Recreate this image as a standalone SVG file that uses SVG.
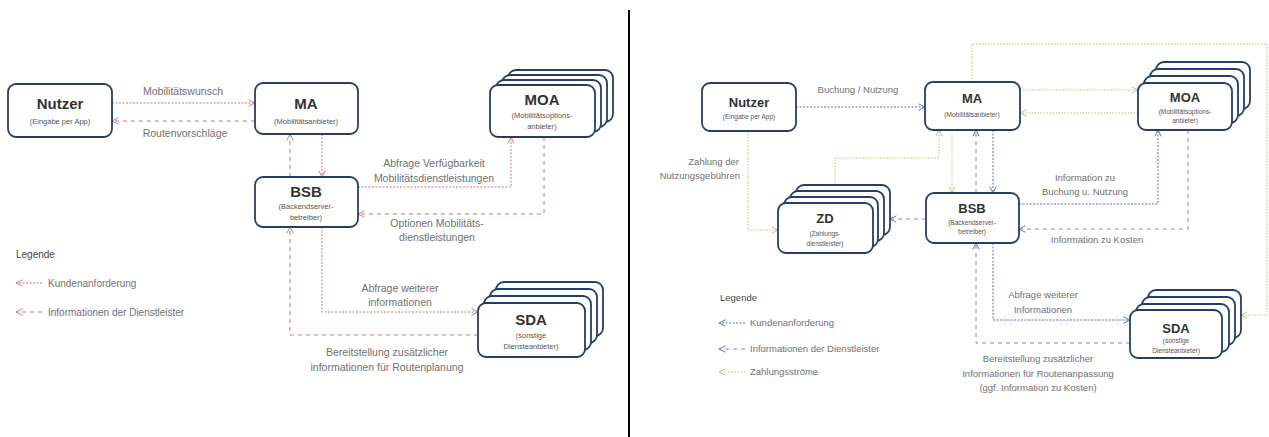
<svg xmlns="http://www.w3.org/2000/svg" width="1269" height="437" viewBox="0 0 1269 437">
<defs>
<style>
.box{fill:#fff;stroke:#243f66;stroke-width:1.8}
.t1{font-family:"Liberation Sans",Arial,sans-serif;font-weight:bold;fill:#333;text-anchor:middle}
.sub{font-family:"Liberation Sans",Arial,sans-serif;fill:#555;text-anchor:middle}
.lbl{font-family:"Liberation Sans",Arial,sans-serif;fill:#707070;font-size:10.5px;text-anchor:middle}
.lblr{font-family:"Liberation Sans",Arial,sans-serif;fill:#707070;font-size:9.5px;text-anchor:middle}
.leg{font-family:"Liberation Sans",Arial,sans-serif;fill:#707070;font-size:10px}
.c{fill:none;stroke-width:1}
.redK{stroke:#cc7676;stroke-dasharray:2 1.5}
.redI{stroke:#cc7676;stroke-dasharray:4 4}
.bluK{stroke:#5a74a2;stroke-dasharray:2 1.5}
.bluI{stroke:#7a8fb4;stroke-dasharray:4 4}
.grn{stroke:#b0c878;stroke-dasharray:1.5 1.5}
</style>
<marker id="ar" viewBox="0 0 10 10" refX="9" refY="5" markerWidth="8" markerHeight="8" markerUnits="userSpaceOnUse" orient="auto"><path d="M1,1 L9,5 L1,9" fill="none" stroke="#cc7676" stroke-width="1.2"/></marker>
<marker id="ab" viewBox="0 0 10 10" refX="9" refY="5" markerWidth="8" markerHeight="8" markerUnits="userSpaceOnUse" orient="auto"><path d="M1,1 L9,5 L1,9" fill="none" stroke="#5a74a2" stroke-width="1.2"/></marker>
<marker id="ag" viewBox="0 0 10 10" refX="9" refY="5" markerWidth="8" markerHeight="8" markerUnits="userSpaceOnUse" orient="auto"><path d="M1,1 L9,5 L1,9" fill="none" stroke="#b0c878" stroke-width="1.2"/></marker>
</defs>
<rect width="1269" height="437" fill="#fff"/>
<line x1="629" y1="10" x2="629" y2="437" stroke="#000" stroke-width="2"/>

<!-- LEFT connectors -->
<g id="connectors-left">
<line class="c redK" x1="112" y1="103" x2="255" y2="103" marker-end="url(#ar)"/>
<line class="c redI" x1="255" y1="121" x2="112" y2="121" marker-end="url(#ar)"/>
<line class="c redI" x1="290" y1="177" x2="290" y2="134" marker-end="url(#ar)"/>
<line class="c redK" x1="322" y1="134" x2="322" y2="177" marker-end="url(#ar)"/>
<polyline class="c redK" points="358,187 511,187 511,137" marker-end="url(#ar)"/>
<polyline class="c redI" points="544,137 544,214 358,214" marker-end="url(#ar)"/>
<polyline class="c redK" points="322,227 322,312 478,312" marker-end="url(#ar)"/>
<polyline class="c redI" points="478,335 290,335 290,227" marker-end="url(#ar)"/>
<line class="c redK" x1="42" y1="283" x2="16" y2="283" marker-end="url(#ar)"/>
<line class="c redI" x1="42" y1="312" x2="16" y2="312" marker-end="url(#ar)"/>
</g>
<g id="labels-left">
<text class="lbl" x="183" y="95">Mobilitätswunsch</text>
<text class="lbl" x="185" y="137">Routenvorschläge</text>
<text class="lbl" x="434" y="167">Abfrage Verfügbarkeit</text>
<text class="lbl" x="434" y="182">Mobilitätsdienstleistungen</text>
<text class="lbl" x="437" y="227">Optionen Mobilitäts-</text>
<text class="lbl" x="437" y="241">dienstleistungen</text>
<text class="lbl" x="400" y="292">Abfrage weiterer</text>
<text class="lbl" x="400" y="306">informationen</text>
<text class="lbl" x="387" y="356">Bereitstellung zusätzlicher</text>
<text class="lbl" x="387" y="371">informationen für Routenplanung</text>
<text class="leg" x="16" y="258" style="fill:#444">Legende</text>
<text class="leg" x="48" y="287">Kundenanforderung</text>
<text class="leg" x="48" y="316">Informationen der Dienstleister</text>
</g>

<!-- LEFT nodes -->
<g id="L-Nutzer">
<rect class="box" x="8" y="84" width="104" height="53" rx="8"/>
<text class="t1" x="60" y="109" font-size="15">Nutzer</text>
<text class="sub" x="60" y="124" font-size="7.5">(Eingabe per App)</text>
</g>
<g id="L-MA">
<rect class="box" x="255" y="83" width="103" height="51" rx="8"/>
<text class="t1" x="306" y="109" font-size="15">MA</text>
<text class="sub" x="306" y="124" font-size="7.5">(Mobilitätsanbieter)</text>
</g>
<g id="L-BSB">
<rect class="box" x="255" y="177" width="103" height="50" rx="8"/>
<text class="t1" x="306" y="197" font-size="15">BSB</text>
<text class="sub" x="306" y="209" font-size="7.5">(Backendserver-</text>
<text class="sub" x="306" y="220" font-size="7.5">betreiber)</text>
</g>
<g id="L-MOA">
<rect class="box" x="508" y="70" width="105" height="52" rx="8"/>
<rect class="box" x="502" y="75" width="105" height="52" rx="8"/>
<rect class="box" x="496" y="80" width="105" height="52" rx="8"/>
<rect class="box" x="490" y="85" width="105" height="52" rx="8"/>
<text class="t1" x="542" y="105" font-size="15">MOA</text>
<text class="sub" x="542" y="118" font-size="7.5">(Mobilitätsoptions-</text>
<text class="sub" x="542" y="129" font-size="7.5">anbieter)</text>
</g>
<g id="L-SDA">
<rect class="box" x="496" y="282" width="107" height="54" rx="8"/>
<rect class="box" x="490" y="289" width="107" height="54" rx="8"/>
<rect class="box" x="484" y="296" width="107" height="54" rx="8"/>
<rect class="box" x="478" y="303" width="107" height="54" rx="8"/>
<text class="t1" x="531" y="325" font-size="15">SDA</text>
<text class="sub" x="531" y="338" font-size="7.5">(sonstige</text>
<text class="sub" x="531" y="349" font-size="7.5">Diensteanbieter)</text>
</g>

<!-- RIGHT connectors -->
<g id="connectors-right">
<line class="c bluK" x1="796" y1="107" x2="925" y2="107" marker-end="url(#ab)"/>
<polyline class="c grn" points="748,131 748,230 778,230" marker-end="url(#ag)"/>
<polyline class="c grn" points="835,185 835,158 939,158 939,130" marker-end="url(#ag)"/>
<line class="c bluI" x1="926" y1="219" x2="890" y2="219" marker-end="url(#ab)"/>
<line class="c grn" x1="952" y1="130" x2="952" y2="193" marker-end="url(#ag)"/>
<line class="c bluI" x1="976" y1="193" x2="976" y2="130" marker-end="url(#ab)"/>
<line class="c bluK" x1="993" y1="130" x2="993" y2="193" marker-end="url(#ab)"/>
<line class="c grn" x1="1020" y1="90" x2="1138" y2="90" marker-end="url(#ag)"/>
<line class="c grn" x1="1138" y1="113" x2="1020" y2="113" marker-end="url(#ag)"/>
<polyline class="c grn" points="972,82 972,44 1267,44 1267,315 1241,315" marker-end="url(#ag)"/>
<polyline class="c bluK" points="1019,204 1158,204 1158,130" marker-end="url(#ab)"/>
<polyline class="c bluI" points="1188,130 1188,229 1019,229" marker-end="url(#ab)"/>
<polyline class="c bluK" points="993,243 993,320 1130,320" marker-end="url(#ab)"/>
<polyline class="c bluI" points="1130,343 976,343 976,243" marker-end="url(#ab)"/>
<line class="c bluK" x1="745" y1="323" x2="719" y2="323" marker-end="url(#ab)"/>
<line class="c bluI" x1="745" y1="349" x2="719" y2="349" marker-end="url(#ab)"/>
<line class="c grn" x1="745" y1="372" x2="719" y2="372" marker-end="url(#ag)"/>
</g>
<g id="labels-right">
<text class="lblr" x="858" y="93">Buchung / Nutzung</text>
<text class="lblr" x="739" y="165" style="text-anchor:end">Zahlung der</text>
<text class="lblr" x="740" y="179" style="text-anchor:end">Nutzungsgebühren</text>
<text class="lblr" x="1085" y="181">Information zu</text>
<text class="lblr" x="1085" y="195">Buchung u. Nutzung</text>
<text class="lblr" x="1097" y="243">Information zu Kosten</text>
<text class="lblr" x="1043" y="298">Abfrage weiterer</text>
<text class="lblr" x="1043" y="313">Informationen</text>
<text class="lblr" x="1038" y="362">Bereitstellung zusätzlicher</text>
<text class="lblr" x="1038" y="377">Informationen für Routenanpassung</text>
<text class="lblr" x="1038" y="391">(ggf. Information zu Kosten)</text>
<text class="leg" x="720" y="301" style="fill:#444;font-size:9.5px">Legende</text>
<text class="leg" x="750" y="326" style="font-size:9.5px">Kundenanforderung</text>
<text class="leg" x="750" y="352" style="font-size:9.5px">Informationen der Dienstleister</text>
<text class="leg" x="750" y="375" style="font-size:9.5px">Zahlungsströme</text>
</g>

<!-- RIGHT nodes -->
<g id="R-Nutzer">
<rect class="box" x="702" y="83" width="94" height="48" rx="8"/>
<text class="t1" x="749" y="107" font-size="13">Nutzer</text>
<text class="sub" x="749" y="119" font-size="6.5">(Eingabe per App)</text>
</g>
<g id="R-MA">
<rect class="box" x="925" y="82" width="95" height="48" rx="8"/>
<text class="t1" x="972" y="103" font-size="13">MA</text>
<text class="sub" x="972" y="117" font-size="6.5">(Mobilitätsanbieter)</text>
</g>
<g id="R-MOA">
<rect class="box" x="1156" y="62" width="94" height="47" rx="8"/>
<rect class="box" x="1150" y="69" width="94" height="47" rx="8"/>
<rect class="box" x="1144" y="76" width="94" height="47" rx="8"/>
<rect class="box" x="1138" y="83" width="94" height="47" rx="8"/>
<text class="t1" x="1185" y="102" font-size="13">MOA</text>
<text class="sub" x="1185" y="114" font-size="6.5">(Mobilitätsoptions-</text>
<text class="sub" x="1185" y="123" font-size="6.5">anbieter)</text>
</g>
<g id="R-BSB">
<rect class="box" x="926" y="193" width="93" height="50" rx="8"/>
<text class="t1" x="972" y="213" font-size="13">BSB</text>
<text class="sub" x="972" y="225" font-size="6.5">(Backendserver-</text>
<text class="sub" x="972" y="234" font-size="6.5">betreiber)</text>
</g>
<g id="R-ZD">
<rect class="box" x="796" y="185" width="94" height="50" rx="8"/>
<rect class="box" x="790" y="191" width="94" height="50" rx="8"/>
<rect class="box" x="784" y="197" width="94" height="50" rx="8"/>
<rect class="box" x="778" y="203" width="95" height="50" rx="8"/>
<text class="t1" x="825" y="223" font-size="13">ZD</text>
<text class="sub" x="825" y="236" font-size="6.5">(Zahlungs-</text>
<text class="sub" x="825" y="246" font-size="6.5">dienstleister)</text>
</g>
<g id="R-SDA">
<rect class="box" x="1148" y="290" width="93" height="48" rx="8"/>
<rect class="box" x="1142" y="297" width="93" height="48" rx="8"/>
<rect class="box" x="1136" y="304" width="93" height="48" rx="8"/>
<rect class="box" x="1130" y="310" width="92" height="48" rx="8"/>
<text class="t1" x="1176" y="333" font-size="13">SDA</text>
<text class="sub" x="1176" y="343" font-size="6.5">(sonstige</text>
<text class="sub" x="1176" y="353" font-size="6.5">Diensteanbieter)</text>
</g>
</svg>
